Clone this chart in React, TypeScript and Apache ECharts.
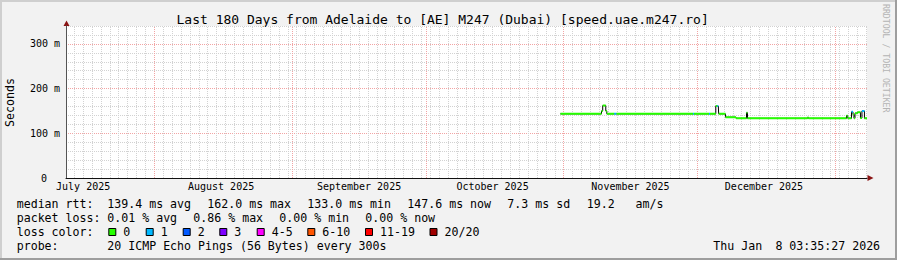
import React, { useEffect, useRef } from 'react';
import * as echarts from 'echarts';

// ---------- data ----------
const TITLE = 'Last 180 Days from Adelaide to [AE] M247 (Dubai) [speed.uae.m247.ro]';
const RANGE_START = '2025-07-12 03:35:27';
const RANGE_END = '2026-01-08 03:35:27';

const monthStarts = ['2025-08-01', '2025-09-01', '2025-10-01', '2025-11-01', '2025-12-01', '2026-01-01'];
const monthLabelDates = ['2025-07-16', '2025-08-16', '2025-09-16', '2025-10-16', '2025-11-16', '2025-12-16'];
const monthLabels = ['July 2025', 'August 2025', 'September 2025', 'October 2025', 'November 2025', 'December 2025'];
const minorGridStart = '2025-07-14';
const minorGridDays = 2;

const yMax = 340;
const yMinorStep = 20;
const yMajorStep = 100;

// median rtt (ms), change points: value holds from this time to the next
const medianTimes = [
  '2025-10-31 06:00', '2025-11-09 11:45', '2025-11-09 18:15', '2025-11-10 10:45', '2025-11-10 16:20',
  '2025-11-12 08:40', '2025-11-12 19:30', '2025-11-30 01:10', '2025-11-30 06:30', '2025-12-03 15:25',
  '2025-12-03 20:50', '2025-12-05 04:05', '2025-12-05 12:15', '2025-12-05 17:40', '2025-12-05 19:40',
  '2025-12-07 08:20', '2025-12-09 17:00', '2025-12-12 01:40', '2025-12-12 07:00', '2025-12-25 18:40',
  '2025-12-26 00:00', '2026-01-03 13:00', '2026-01-03 20:00', '2026-01-04 16:00', '2026-01-04 23:50',
  '2026-01-05 05:15', '2026-01-05 10:45', '2026-01-06 00:10', '2026-01-06 16:15', '2026-01-07 00:20',
  '2026-01-07 13:45',
];
const medianValues = [
  143.5, 150, 162, 150, 143.5,
  143.5, 143.5, 143.5, 143.5, 143.5,
  143.5, 161, 161, 161, 143.5,
  136, 133.5, 146, 133.5, 135.5,
  133.5, 139.5, 133.5, 148, 142,
  133.5, 145, 147, 134, 150,
  133.5,
];
// lost pings (out of 20) per segment
const medianLoss = [
  0, 0, 0, 0, 0,
  1, 0, 1, 0, 1,
  0, 0, 1, 0, 0,
  0, 0, 0, 0, 0,
  0, 0, 0, 1, 0,
  0, 0, 0, 0, 1,
  0,
];

const lossColors = ['#26ff00', '#00b8ff', '#0059ff', '#7e00ff', '#ff00ff', '#ff5500', '#ff0000', '#a10000'];
const lossLabels = ['0', '1', '2', '3', '4-5', '6-10', '11-19', '20/20'];
const lossLevelOfCount = (n: number) => (n <= 3 ? n : n <= 5 ? 4 : n <= 10 ? 5 : n <= 19 ? 6 : 7);

const rttStats = ['139.4 ms avg', '162.0 ms max', '133.0 ms min', '147.6 ms now', '7.3 ms sd'];
const amsValue = '19.2';
const amsUnit = 'am/s';
const lossStats = ['0.01 % avg', '0.86 % max', '0.00 % min', '0.00 % now'];
const probeText = '20 ICMP Echo Pings (56 Bytes) every 300s';
const stampParts = ['Thu Jan', '8 03:35:27 2026'];

// ---------- helpers ----------
const ts = (s: string) => {
  const [d, t = '00:00:00'] = s.split(' ');
  const [Y, M, D] = d.split('-').map(Number);
  const [h = 0, m = 0, sec = 0] = t.split(':').map(Number);
  return Date.UTC(Y, M - 1, D, h, m, sec);
};

const MONO = 'DejaVu Sans Mono';

export default function App() {
  const ref = useRef<HTMLDivElement>(null);

  useEffect(() => {
    if (!ref.current) return;
    const chart = echarts.init(ref.current, undefined, { renderer: 'svg' });

    const startTs = ts(RANGE_START);
    const endTs = ts(RANGE_END);
    const DAY = 86400000;

    const minorLines: number[] = [];
    for (let t = ts(minorGridStart); t < endTs; t += minorGridDays * DAY) minorLines.push(t);
    const monthTs = monthStarts.map(ts);
    const labelTs = monthLabelDates.map(ts);

    const stepData: any[] = medianTimes.map((t, i) => [ts(t), medianValues[i]]);
    stepData.push([endTs, medianValues[medianValues.length - 1]]);

    const levels = Array.from(new Set(medianLoss.map(lossLevelOfCount)));
    const segSeries = levels.map((lv) => {
      const data: any[] = [];
      medianTimes.forEach((t, i) => {
        if (lossLevelOfCount(medianLoss[i]) !== lv) return;
        const t0 = ts(t);
        const t1 = i + 1 < medianTimes.length ? ts(medianTimes[i + 1]) : endTs;
        data.push([t0, medianValues[i]], [t1, medianValues[i]], [t1, '-']);
      });
      return {
        type: 'line',
        data,
        symbol: 'none',
        connectNulls: false,
        lineStyle: { color: lossColors[lv], width: 2 },
        z: 3,
      };
    });

    const gridGray = '#d2d2d2';
    const gridRed = '#f2a4a4';

    const text = (x: number, y: number, t: string, extra: any = {}) => ({
      type: 'text',
      x,
      y,
      silent: true,
      style: {
        text: t,
        fontFamily: MONO,
        fontSize: 11.6,
        fill: '#000',
        align: 'left',
        verticalAlign: 'middle',
        ...extra,
      },
    });

    const rowY = [204, 218, 232, 246];
    const graphics: any[] = [
      // frame shading
      { type: 'rect', shape: { x: 0, y: 0, width: 897, height: 2 }, style: { fill: '#cfcfcf' }, silent: true },
      { type: 'rect', shape: { x: 0, y: 0, width: 2, height: 260 }, style: { fill: '#cfcfcf' }, silent: true },
      { type: 'rect', shape: { x: 0, y: 258, width: 897, height: 2 }, style: { fill: '#9e9e9e' }, silent: true },
      { type: 'rect', shape: { x: 895, y: 0, width: 2, height: 260 }, style: { fill: '#9e9e9e' }, silent: true },
      // axis arrows
      { type: 'polygon', shape: { points: [[63.5, 26], [69.5, 26], [66.5, 20.5]] }, style: { fill: '#8a1414' }, silent: true },
      { type: 'polygon', shape: { points: [[867.5, 175], [867.5, 181], [873.5, 178]] }, style: { fill: '#8a1414' }, silent: true },
      // title
      text(176.5, 19, TITLE, { fontSize: 13 }),
      // y axis title
      {
        type: 'text', x: 10, y: 102.5, rotation: Math.PI / 2, silent: true,
        style: { text: 'Seconds', fontFamily: MONO, fontSize: 11.6, fill: '#000', align: 'center', verticalAlign: 'middle' },
      },
      // watermark
      {
        type: 'text', x: 886, y: 4, rotation: -Math.PI / 2, silent: true,
        style: { text: 'RRDTOOL / TOBI OETIKER', fontFamily: MONO, fontSize: 8.2, fill: '#b4b4b4', align: 'left', verticalAlign: 'middle' },
      },
      // legend rows
      text(16.7, rowY[0], 'median rtt:'),
      ...rttStats.map((s, i) => text(107.3 + i * 100, rowY[0], s)),
      text(586.7, rowY[0], amsValue),
      text(635.5, rowY[0], amsUnit),
      text(16.7, rowY[1], 'packet loss:'),
      ...lossStats.map((s, i) => text(107.3 + i * 86, rowY[1], s)),
      text(16.7, rowY[2], 'loss color:'),
      text(16.7, rowY[3], 'probe:'),
      text(107.3, rowY[3], probeText),
      text(713.3, rowY[3], stampParts[0]),
      text(775.4, rowY[3], stampParts[1]),
    ];
    const boxX = [108.3, 145.7, 182.7, 219.3, 256.7, 307.3, 365, 429.5];
    lossLabels.forEach((lab, i) => {
      graphics.push({
        type: 'rect', silent: true,
        shape: { x: boxX[i] + 0.5, y: 228.5, width: 7, height: 7 },
        style: { fill: lossColors[i], stroke: '#000', lineWidth: 1 },
      });
      graphics.push(text(boxX[i] + 15, rowY[2], lab));
    });

    const option: any = {
      animation: false,
      backgroundColor: '#f2f2f2',
      grid: { left: 66, top: 26, width: 801, height: 152, show: true, backgroundColor: '#ffffff', borderWidth: 0 },
      xAxis: {
        type: 'value',
        min: startTs,
        max: endTs,
        axisLine: { show: true, lineStyle: { color: '#111', width: 1 } },
        axisTick: { show: false },
        splitLine: { show: false },
        axisLabel: {
          customValues: labelTs,
          formatter: (v: number) => {
            const i = labelTs.findIndex((t) => Math.abs(t - v) < 60000);
            return i >= 0 ? monthLabels[i] : '';
          },
          fontFamily: MONO,
          fontSize: 10,
          color: '#000',
          margin: 3,
          hideOverlap: false,
        },
      },
      yAxis: {
        type: 'value',
        min: 0,
        max: yMax,
        interval: yMinorStep,
        axisLine: { show: true, lineStyle: { color: '#555', width: 1 } },
        axisTick: { show: false },
        splitLine: {
          show: true,
          lineStyle: {
            color: [gridRed, gridGray, gridGray, gridGray, gridGray],
            type: [1, 1],
            width: 1,
          },
        },
        axisLabel: {
          formatter: (v: number) => {
            if (v % yMajorStep !== 0) return '';
            if (v === 0) return '{z|0}';
            return `${v} m`;
          },
          rich: { z: { fontFamily: MONO, fontSize: 10, color: '#000', padding: [0, 13, 0, 0] } },
          fontFamily: MONO,
          fontSize: 10,
          color: '#000',
          margin: 6,
        },
      },
      series: [
        {
          type: 'line',
          step: 'end',
          data: stepData,
          symbol: 'none',
          lineStyle: { color: '#000', width: 1 },
          z: 2,
          markLine: {
            silent: true,
            symbol: ['none', 'none'],
            label: { show: false },
            z: 1,
            data: [
              ...minorLines.map((t) => ({ xAxis: t, lineStyle: { color: gridGray, type: [1, 1], width: 1 } })),
              ...monthTs.map((t) => ({ xAxis: t, lineStyle: { color: gridRed, type: [1, 1], width: 1 } })),
            ],
          },
        },
        ...segSeries,
      ],
      graphic: graphics,
    };

    chart.setOption(option);
    return () => chart.dispose();
  }, []);

  return (
    <div
      ref={ref}
      style={{ position: 'absolute', left: 0, top: 0, width: 897, height: 260 }}
    />
  );
}
